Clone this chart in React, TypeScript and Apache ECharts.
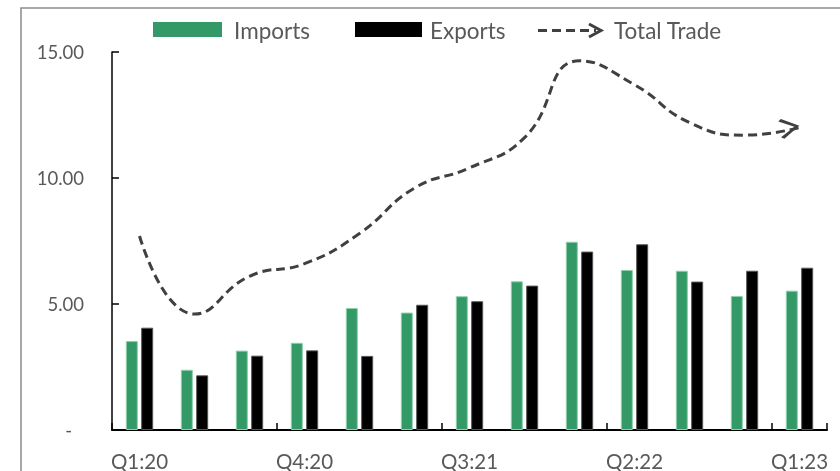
import React, { useEffect, useRef } from "react";
import * as echarts from "echarts";

const categories = ["Q1:20", "Q2:20", "Q3:20", "Q4:20", "Q1:21", "Q2:21", "Q3:21", "Q4:21", "Q1:22", "Q2:22", "Q3:22", "Q4:22", "Q1:23"];
const imports = [3.53, 2.39, 3.15, 3.46, 4.84, 4.66, 5.31, 5.9, 7.47, 6.35, 6.32, 5.32, 5.53];
const exportsVals = [4.06, 2.17, 2.95, 3.16, 2.94, 4.97, 5.11, 5.73, 7.08, 7.37, 5.89, 6.32, 6.44];
const totalTrade = [7.7, 4.6, 6.1, 6.6, 7.8, 9.6, 10.4, 11.6, 14.65, 13.7, 12.2, 11.7, 12.0];
const seriesNames = ["Imports", "Exports", "Total Trade"];
const yMin = 0;
const yMax = 15;
const yInterval = 5;

const GREEN = "#339966";
const BLACK = "#000000";
const LINE = "#404040";
const TEXT = "#595959";
const FONT = "Lato";

export default function App() {
  const ref = useRef<HTMLDivElement>(null);
  useEffect(() => {
    if (!ref.current) return;
    const chart = echarts.init(ref.current, undefined, { renderer: "svg" });
    const lineData: any[] = totalTrade.map((v, i) =>
      i === totalTrade.length - 1
        ? {
            value: v,
            symbol: "path://M0,2 L3,0 L20,10 L3,20 L0,18 L15,10 Z",
            symbolSize: [20, 20],
            symbolOffset: [-10, 0],
            symbolRotate: 10,
            itemStyle: { color: LINE },
          }
        : v
    );
    const legendY = 30.5;
    chart.setOption({
      animation: false,
      grid: { left: 112, right: 13, top: 52, bottom: 41, containLabel: false },
      xAxis: {
        type: "category",
        data: categories,
        boundaryGap: true,
        axisLine: { show: true, lineStyle: { color: "#000", width: 2 } },
        axisTick: { show: true, inside: true, interval: 2, length: 7, lineStyle: { color: "#000", width: 1.5 } },
        axisLabel: { interval: 2, color: TEXT, fontFamily: FONT, fontSize: 20.5, margin: 20 },
        splitLine: { show: false },
      },
      yAxis: {
        type: "value",
        min: yMin,
        max: yMax,
        interval: yInterval,
        axisLine: { show: true, lineStyle: { color: "#000", width: 1.5 } },
        axisTick: { show: true, inside: true, length: 7, lineStyle: { color: "#000", width: 1.5 } },
        axisLabel: {
          color: TEXT,
          fontFamily: FONT,
          fontSize: 18.5,
          margin: 28,
          formatter: (v: number) => (v === 0 ? "{z|-}" : v.toFixed(2)),
          rich: { z: { color: TEXT, fontFamily: FONT, fontSize: 18.5, padding: [0, 12, 0, 0] } },
        },
        splitLine: { show: false },
      },
      series: [
        {
          name: seriesNames[0],
          type: "bar",
          data: imports,
          barWidth: 12,
          barGap: "28%",
          itemStyle: { color: GREEN, borderColor: "#8fd0aa", borderWidth: 1 },
        },
        {
          name: seriesNames[1],
          type: "bar",
          data: exportsVals,
          barWidth: 12,
          barGap: "28%",
          itemStyle: { color: BLACK, borderColor: "#555", borderWidth: 1 },
        },
        {
          name: seriesNames[2],
          type: "line",
          data: lineData,
          smooth: 0.5,
          symbol: "none",
          showSymbol: true,
          lineStyle: { color: LINE, width: 3, type: [9, 5], cap: "butt" },
          itemStyle: { color: LINE },
          z: 5,
        },
      ],
      graphic: [
        {
          type: "rect",
          silent: true,
          shape: { x: 21, y: 8, width: 840, height: 480 },
          style: { fill: "none", stroke: "#8c8c8c", lineWidth: 1.5 },
        },
        { type: "rect", shape: { x: 153, y: 22, width: 69, height: 15 }, style: { fill: GREEN } },
        {
          type: "text",
          x: 234,
          y: legendY,
          style: { text: seriesNames[0], fill: TEXT, fontFamily: FONT, fontSize: 22.5, verticalAlign: "middle" },
        },
        { type: "rect", shape: { x: 355, y: 22, width: 67, height: 15 }, style: { fill: BLACK } },
        {
          type: "text",
          x: 430,
          y: legendY,
          style: { text: seriesNames[1], fill: TEXT, fontFamily: FONT, fontSize: 22.5, verticalAlign: "middle" },
        },
        {
          type: "line",
          shape: { x1: 538, y1: legendY, x2: 596, y2: legendY },
          style: { stroke: LINE, lineWidth: 3, lineDash: [9, 5] },
        },
        {
          type: "polyline",
          shape: { points: [[589, 24], [601, legendY], [589, 37]] },
          style: { stroke: LINE, lineWidth: 3, fill: "none" },
        },
        {
          type: "text",
          x: 614,
          y: legendY,
          style: { text: seriesNames[2], fill: TEXT, fontFamily: FONT, fontSize: 22.5, verticalAlign: "middle" },
        },
      ],
    });
    return () => chart.dispose();
  }, []);
  return <div ref={ref} style={{ position: "fixed", left: 0, top: 0, width: 840, height: 471 }} />;
}
